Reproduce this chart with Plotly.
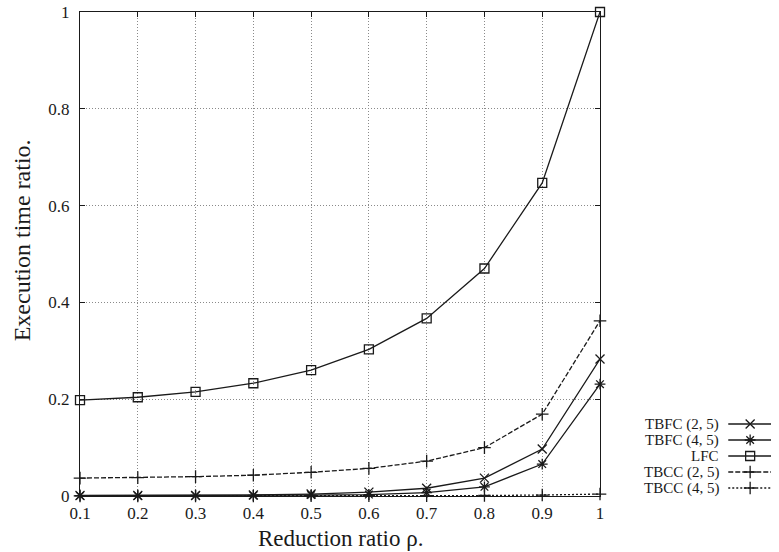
import plotly.graph_objects as go

# Reduction ratio (x) and execution time ratio for each method
rho = [0.1, 0.2, 0.3, 0.4, 0.5, 0.6, 0.7, 0.8, 0.9, 1.0]
tbfc_2_5 = [0.001, 0.001, 0.001, 0.002, 0.004, 0.008, 0.016, 0.037, 0.097, 0.283]
tbfc_4_5 = [0.0005, 0.0005, 0.001, 0.001, 0.002, 0.003, 0.007, 0.019, 0.066, 0.231]
lfc = [0.198, 0.204, 0.215, 0.233, 0.260, 0.303, 0.367, 0.470, 0.647, 1.0]
tbcc_2_5 = [0.037, 0.038, 0.040, 0.043, 0.049, 0.057, 0.072, 0.100, 0.169, 0.362]
tbcc_4_5 = [0.0002, 0.0002, 0.0003, 0.0003, 0.0004, 0.0005, 0.0007, 0.001, 0.002, 0.004]

x_ticks = [0.1, 0.2, 0.3, 0.4, 0.5, 0.6, 0.7, 0.8, 0.9, 1.0]
x_tick_text = ["0.1", "0.2", "0.3", "0.4", "0.5", "0.6", "0.7", "0.8", "0.9", "1"]
y_ticks = [0, 0.2, 0.4, 0.6, 0.8, 1.0]
y_tick_text = ["0", "0.2", "0.4", "0.6", "0.8", "1"]

series = [
    ("TBFC (2, 5)", tbfc_2_5, "x-thin-open", "solid"),
    ("TBFC (4, 5)", tbfc_4_5, "asterisk-open", "solid"),
    ("LFC", lfc, "square-open", "solid"),
    ("TBCC (2, 5)", tbcc_2_5, "cross-thin-open", "5px,2px"),
    ("TBCC (4, 5)", tbcc_4_5, "cross-thin-open", "2px,2px"),
]

FONT = '"Liberation Serif", "DejaVu Serif", serif'
INK = "#1a1a1a"
GRID = "#8a8a8a"

fig = go.Figure()

for name, vals, sym, dash in series:
    fig.add_trace(go.Scatter(
        x=rho, y=vals, mode="lines+markers", name=name,
        line=dict(color=INK, width=1.3, dash=dash),
        marker=dict(symbol=sym, size=9, color=INK, line=dict(color=INK, width=1.3)),
        cliponaxis=False, showlegend=False,
    ))

# Hand-built key on a helper axis measured in pixels (right-aligned labels, sample on the right)
key_rows = [424, 440, 456, 472, 488]
for (name, vals, sym, dash), yk in zip(series, key_rows):
    fig.add_trace(go.Scatter(
        x=[732, 775], y=[yk, yk], mode="lines", xaxis="x2", yaxis="y2",
        line=dict(color=INK, width=1.3, dash=dash), showlegend=False, hoverinfo="skip",
    ))
    fig.add_trace(go.Scatter(
        x=[754], y=[yk], mode="markers", xaxis="x2", yaxis="y2",
        marker=dict(symbol=sym, size=9, color=INK, line=dict(color=INK, width=1.3)),
        showlegend=False, hoverinfo="skip",
    ))
    fig.add_annotation(
        x=724, y=yk, xref="x2", yref="y2", text=name, showarrow=False,
        xanchor="right", yanchor="middle", font=dict(family=FONT, size=15, color=INK),
        borderpad=0,
    )

W, H = 779, 552
L, T, B = 80, 12, 56
plot_w = 603 - L
paper_w = W - L

axis_common = dict(
    showline=True, linecolor=INK, linewidth=1.3, mirror="ticks",
    ticks="inside", ticklen=5, tickcolor=INK, tickwidth=1.2,
    showgrid=True, gridcolor=GRID, gridwidth=1, griddash="1px,2px",
    zeroline=False, tickfont=dict(family=FONT, size=17, color=INK),
)

fig.update_layout(
    width=W, height=H,
    margin=dict(l=L, r=0, t=T, b=B),
    paper_bgcolor="white", plot_bgcolor="white",
    font=dict(family=FONT, size=17, color=INK),
    xaxis=dict(domain=[0, plot_w / paper_w], range=[0.1, 1.0],
               tickvals=x_ticks, ticktext=x_tick_text, ticklabelstandoff=1, **axis_common),
    yaxis=dict(domain=[0, 1], range=[0, 1.0],
               tickvals=y_ticks, ticktext=y_tick_text, ticklabelstandoff=6, **axis_common),
    xaxis2=dict(domain=[(640 - L) / paper_w, 1], range=[640, 779], visible=False,
                anchor="y2", fixedrange=True),
    yaxis2=dict(domain=[0, 1], range=[552 - B, T], visible=False,
                anchor="x2", fixedrange=True),
)

fig.add_annotation(
    text="Reduction ratio ρ.", xref="x", yref="paper", x=0.551, y=0,
    yshift=-42, showarrow=False, xanchor="center", yanchor="middle",
    font=dict(family=FONT, size=23, color=INK),
)
fig.add_annotation(
    text="Execution time ratio.", xref="paper", yref="paper",
    x=(22 - L) / paper_w, y=(496 - 240) / 484, textangle=-90, showarrow=False,
    xanchor="center", yanchor="middle",
    font=dict(family=FONT, size=24, color=INK),
)

fig.write_html("out.html")
